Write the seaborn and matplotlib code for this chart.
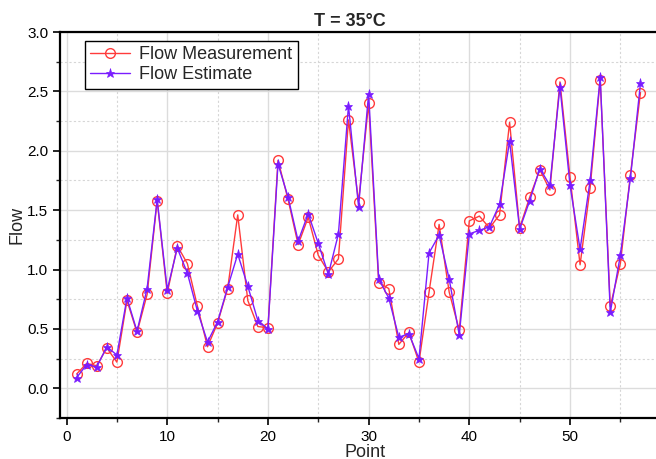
import numpy as np
import pandas as pd
import matplotlib
matplotlib.use('Agg')
import matplotlib.pyplot as plt
from matplotlib.ticker import MultipleLocator
import seaborn as sns

# Data
points = list(range(1, 58))
flow_measurement = [
    0.12, 0.21, 0.19, 0.34, 0.22, 0.74, 0.47, 0.79, 1.58, 0.80,
    1.20, 1.05, 0.69, 0.35, 0.55, 0.84, 1.46, 0.74, 0.52, 0.51,
    1.92, 1.59, 1.21, 1.44, 1.12, 0.98, 1.09, 2.26, 1.57, 2.40,
    0.89, 0.84, 0.37, 0.47, 0.22, 0.81, 1.38, 0.81, 0.49, 1.41,
    1.45, 1.35, 1.46, 2.24, 1.35, 1.61, 1.84, 1.67, 2.58, 1.78,
    1.04, 1.69, 2.60, 0.69, 1.05, 1.80, 2.49,
]
flow_estimate = [
    0.09, 0.20, 0.18, 0.35, 0.28, 0.76, 0.48, 0.84, 1.59, 0.83,
    1.18, 0.97, 0.65, 0.39, 0.56, 0.85, 1.13, 0.86, 0.57, 0.50,
    1.89, 1.61, 1.24, 1.47, 1.22, 0.96, 1.30, 2.38, 1.53, 2.48,
    0.92, 0.76, 0.43, 0.46, 0.25, 1.14, 1.29, 0.92, 0.45, 1.30,
    1.33, 1.36, 1.55, 2.08, 1.34, 1.58, 1.85, 1.71, 2.54, 1.71,
    1.17, 1.75, 2.62, 0.64, 1.12, 1.77, 2.57,
]

df = pd.DataFrame({'Point': points,
                   'Flow Measurement': flow_measurement,
                   'Flow Estimate': flow_estimate})

sns.set_theme(style='ticks')
plt.rcParams['font.family'] = ['Liberation Sans', 'DejaVu Sans']

fig = plt.figure(figsize=(6.56, 4.59), dpi=100)
ax = fig.add_axes([60 / 656, 41 / 459, 610 / 656, 386 / 459])

red = '#ff3b3b'
purple = '#7a1cff'

sns.lineplot(data=df, x='Point', y='Flow Measurement', ax=ax, color=red,
             marker='o', markersize=7, markerfacecolor='none',
             markeredgecolor=red, markeredgewidth=1.0, linewidth=1.0,
             label='Flow Measurement', zorder=3)
sns.lineplot(data=df, x='Point', y='Flow Estimate', ax=ax, color=purple,
             marker='*', markersize=6.5, markerfacecolor=purple,
             markeredgecolor=purple, markeredgewidth=0.5, linewidth=1.0,
             label='Flow Estimate', zorder=4)

ax.set_xlim(-0.65, 59.93)
ax.set_ylim(-0.25, 3.0)
ax.xaxis.set_major_locator(MultipleLocator(10))
ax.xaxis.set_minor_locator(MultipleLocator(5))
ax.yaxis.set_major_locator(MultipleLocator(0.5))
ax.yaxis.set_minor_locator(MultipleLocator(0.25))
ax.yaxis.set_major_formatter(matplotlib.ticker.FormatStrFormatter('%.1f'))

ax.grid(which='major', color='#dcdcdc', linestyle='-', linewidth=1.0)
ax.grid(which='minor', color='#d6d6d6', linestyle=(0, (2, 2)), linewidth=0.8)
ax.set_axisbelow(True)

for side in ['left', 'bottom', 'top']:
    ax.spines[side].set_linewidth(1.6)
    ax.spines[side].set_color('black')
ax.spines['right'].set_visible(False)

ax.tick_params(which='major', direction='out', length=5, width=1.2,
               labelsize=11, colors='black', top=False, right=False)
ax.tick_params(which='minor', direction='out', length=3, width=1.0,
               top=False, right=False)

ax.set_xlabel('Point', fontsize=13, labelpad=0)
ax.set_ylabel('Flow', fontsize=13, labelpad=1)
ax.set_title('T = 35°C', fontsize=13, fontweight='bold', x=(350 - 60) / 610, pad=4)

leg = ax.legend(loc='upper left', bbox_to_anchor=(25 / 610, 1 - 9 / 386),
                borderaxespad=0, fontsize=13, frameon=True, fancybox=False,
                handlelength=2.2, handletextpad=0.5, borderpad=0.3,
                labelspacing=0.15)
leg.get_frame().set_edgecolor('black')
leg.get_frame().set_linewidth(1.0)
leg.get_frame().set_alpha(1)

fig.savefig('out.png', dpi=100)
